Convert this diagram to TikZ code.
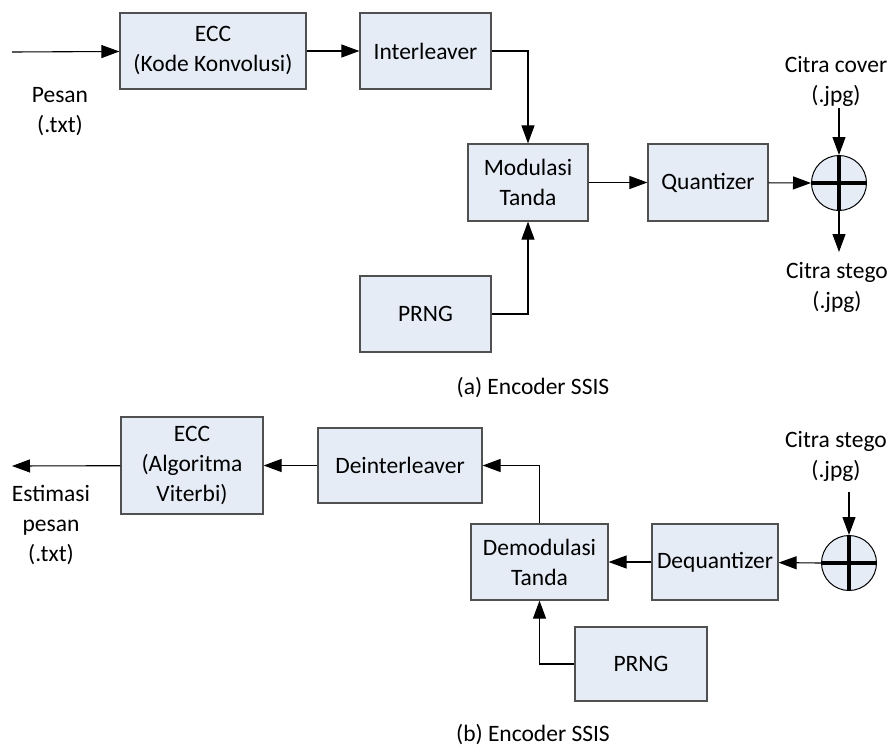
\documentclass[tikz,border=0pt]{standalone}
\usepackage{fontspec}
\setmainfont{Carlito}
\usetikzlibrary{arrows.meta}
\definecolor{boxfill}{HTML}{E5ECF6}
\definecolor{boxline}{HTML}{505050}
\def\txt{\fontsize{23.5pt}{30pt}\selectfont}
\tikzset{block/.style={draw=boxline,fill=boxfill,line width=1.2pt,minimum height=76pt,align=center,font=\txt,inner sep=0pt},
  sum/.style={circle,draw=black,fill=boxfill,line width=1pt,minimum size=55pt,inner sep=0pt},
  lbl/.style={align=center,font=\txt},
  sig/.style={-{Triangle[length=18pt,width=13pt]},line width=1.1pt}}

\begin{document}
\begin{tikzpicture}[x=1pt,y=-1pt]
  \useasboundingbox (0,0) rectangle (892,747);
  % (a) encoder
  \node[block,minimum width=186pt] (ecc) at (213,51) {ECC\\(Kode Konvolusi)};
  \node[block,minimum width=131pt] (inter) at (425.5,51) {Interleaver};
  \node[block,minimum width=120pt,minimum height=77pt] (mod) at (528,182.5) {Modulasi\\Tanda};
  \node[block,minimum width=120pt,minimum height=77pt] (quant) at (708,182.5) {Quantizer};
  \node[block,minimum width=131pt] (prng) at (425.5,314) {PRNG};
  \node[sum] (add) at (839,183) {};
  \coordinate (in) at (12,52);
  \coordinate (cover) at (839,108);
  \coordinate (stego) at (839,252);
  \node[lbl] (pesan) at (60,112) {Pesan\\(.txt)};
  \node[lbl] (coverlbl) at (836,81) {Citra cover\\(.jpg)};
  \node[lbl] (stegolbl) at (837,287) {Citra stego\\(.jpg)};
  \node[lbl] (capa) at (533,388) {(a) Encoder SSIS};
  \draw[sig] (in) -- (ecc);
  \draw[sig] (ecc) -- (inter);
  \draw[sig] (inter.east) -| (mod.north);
  \draw[sig] (prng.east) -| (mod.south);
  \draw[sig] (mod) -- (quant);
  \draw[sig] (quant) -- (add.west);
  \draw[sig] (cover) -- (add.north);
  \draw[sig] (add.south) -- (stego);
  \draw[line width=3.2pt] (add.north) -- (add.south) (add.west) -- (add.east);
  % (b) decoder
  \node[block,minimum width=142pt,minimum height=97pt] (ecc2) at (192,465.5) {ECC\\(Algoritma\\Viterbi)};
  \node[block,minimum width=164pt,minimum height=75pt] (deinter) at (400,465.5) {Deinterleaver};
  \node[block,minimum width=137pt] (demod) at (539.5,562) {Demodulasi\\Tanda};
  \node[block,minimum width=126pt] (dequant) at (715,562) {Dequantizer};
  \node[block,minimum width=132pt,minimum height=74pt] (prng2) at (641,664) {PRNG};
  \node[sum] (add2) at (849,563) {};
  \coordinate (out) at (12,466);
  \coordinate (stego2) at (849,492);
  \node[lbl] (estlbl) at (51,525) {Estimasi\\pesan\\(.txt)};
  \node[lbl] (stego2lbl) at (836,456) {Citra stego\\(.jpg)};
  \node[lbl] (capb) at (533,735) {(b) Encoder SSIS};
  \draw[sig] (stego2) -- (add2.north);
  \draw[sig] (add2.west) -- (dequant);
  \draw[sig] (dequant) -- (demod);
  \draw[sig] (prng2.west) -| (demod.south);
  \draw[sig] (demod.north) |- (deinter.east);
  \draw[sig] (deinter) -- (ecc2);
  \draw[sig] (ecc2) -- (out);
  \draw[line width=3.2pt] (add2.north) -- (add2.south) (add2.west) -- (add2.east);
\end{tikzpicture}
\end{document}
